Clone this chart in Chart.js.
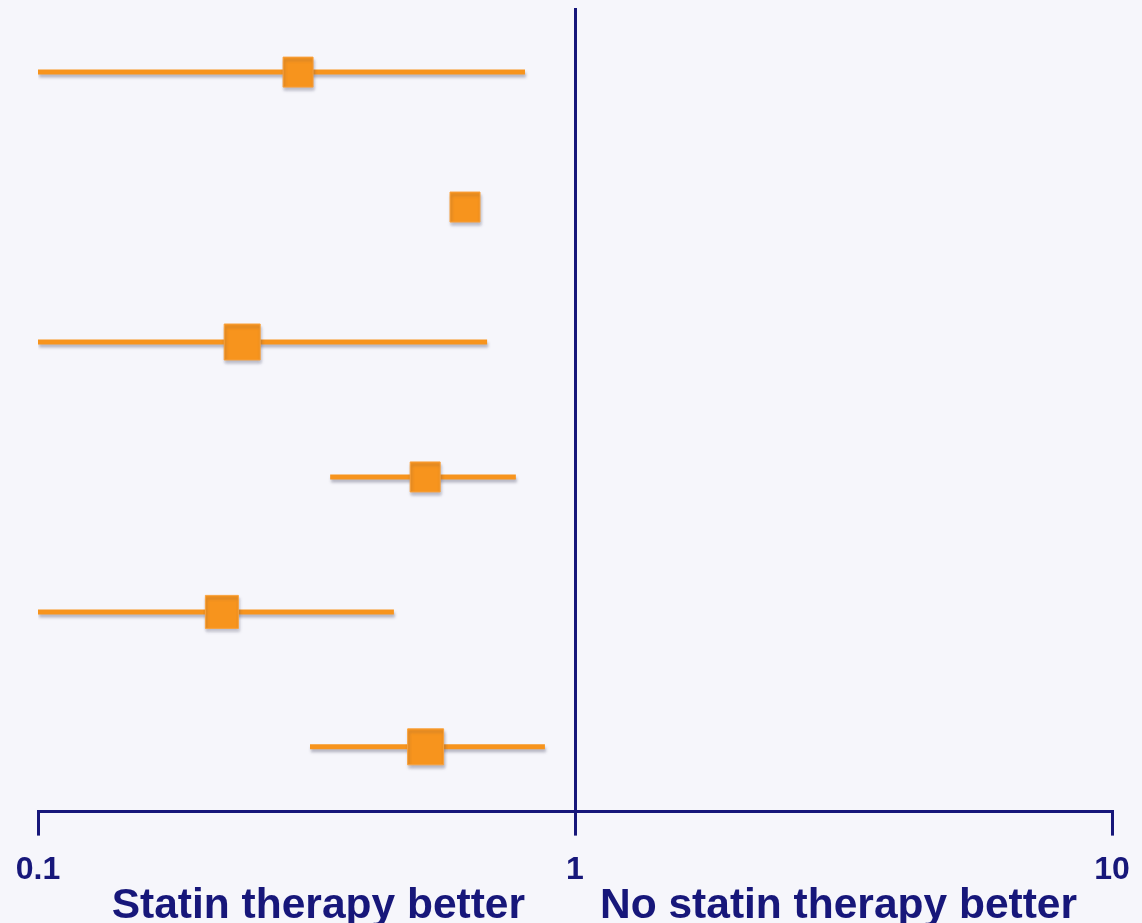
<!DOCTYPE html>
<html>
<head>
<meta charset="utf-8">
<script src="https://cdn.jsdelivr.net/npm/chart.js@4/dist/chart.umd.min.js"></script>
<style>
  html, body { margin: 0; padding: 0; background: #f6f6fb; }
  #wrap { width: 1142px; height: 923px; position: relative; }
</style>
</head>
<body>
<div id="wrap"><canvas id="c" width="1142" height="923"></canvas></div>
<script>
// Odds ratios (log scale) with 95% confidence limits, one row per study
const rows = [1, 2, 3, 4, 5, 6];
const oddsRatio = [0.305, 0.624, 0.240, 0.526, 0.220, 0.527];
const lowerCI   = [0.1,   null,  0.1,   0.350, 0.1,   0.321];
const upperCI   = [0.807, null,  0.686, 0.776, 0.460, 0.879];
const markSize  = [30, 30, 36, 30, 33, 36];   // square side, px (study weight)
const xTicks    = [0.1, 1, 10];
const leftLabel  = 'Statin therapy better';
const rightLabel = 'No statin therapy better';

const NAVY = '#17177a';
const ORANGE = '#f7941d';

const datasets = [];
rows.forEach((r, i) => {
  if (lowerCI[i] == null) return;
  datasets.push({
    type: 'line',
    data: [{ x: lowerCI[i], y: r }, { x: upperCI[i], y: r }],
    borderColor: ORANGE,
    borderWidth: 5,
    borderCapStyle: 'butt',
    pointRadius: 0,
    fill: false,
    order: 2
  });
});
datasets.push({
  type: 'scatter',
  data: rows.map((r, i) => ({ x: oddsRatio[i], y: r })),
  pointStyle: 'rect',
  pointRadius: markSize.map(s => s / Math.SQRT2),
  pointHoverRadius: markSize.map(s => s / Math.SQRT2),
  backgroundColor: ORANGE,
  borderColor: '#f9a23e',
  borderWidth: 1,
  order: 1
});

// soft drop shadow under the orange marks
const shadowPlugin = {
  id: 'markShadow',
  beforeDatasetsDraw(chart) {
    const ctx = chart.ctx;
    ctx.save();
    ctx.shadowColor = 'rgba(60,60,90,0.35)';
    ctx.shadowBlur = 3;
    ctx.shadowOffsetX = 1;
    ctx.shadowOffsetY = 3;
  },
  afterDatasetsDraw(chart) { chart.ctx.restore(); }
};

// captions either side of the line of no effect
const captionPlugin = {
  id: 'captions',
  afterDraw(chart) {
    const ctx = chart.ctx;
    const xs = chart.scales.x;
    const x1 = xs.getPixelForValue(1);
    ctx.save();
    ctx.fillStyle = NAVY;
    ctx.font = 'bold 42.5px "Liberation Sans", Arial, sans-serif';
    ctx.textBaseline = 'alphabetic';
    ctx.textAlign = 'right';
    ctx.fillText(leftLabel, x1 - 50, 918);
    ctx.textAlign = 'left';
    ctx.fillText(rightLabel, x1 + 25, 918);
    ctx.restore();
  }
};

new Chart(document.getElementById('c'), {
  data: { datasets },
  plugins: [shadowPlugin, captionPlugin],
  options: {
    responsive: false,
    animation: false,
    layout: { autoPadding: false, padding: { left: 38, right: 30, top: 8, bottom: 19 } },
    plugins: { legend: { display: false }, tooltip: { enabled: false } },
    scales: {
      x: {
        type: 'logarithmic',
        min: 0.1,
        max: 10,
        afterBuildTicks(scale) { scale.ticks = xTicks.map(v => ({ value: v })); },
        afterFit(scale) { scale.paddingLeft = 0; scale.paddingRight = 0; },
        border: { display: true, color: NAVY, width: 3 },
        grid: {
          drawOnChartArea: true,
          color: c => (c.tick && c.tick.value === 1) ? NAVY : 'rgba(0,0,0,0)',
          lineWidth: 3,
          tickColor: NAVY,
          tickLength: 24,
          tickWidth: 3
        },
        ticks: {
          color: NAVY,
          font: { family: '"Liberation Sans", Arial, sans-serif', size: 32, weight: 'bold' },
          padding: 15,
          maxRotation: 0,
          autoSkip: false,
          callback: v => String(v)
        }
      },
      y: {
        type: 'linear',
        reverse: true,
        min: 0.525,
        max: 6.48,
        display: false
      }
    }
  }
});
</script>
</body>
</html>
